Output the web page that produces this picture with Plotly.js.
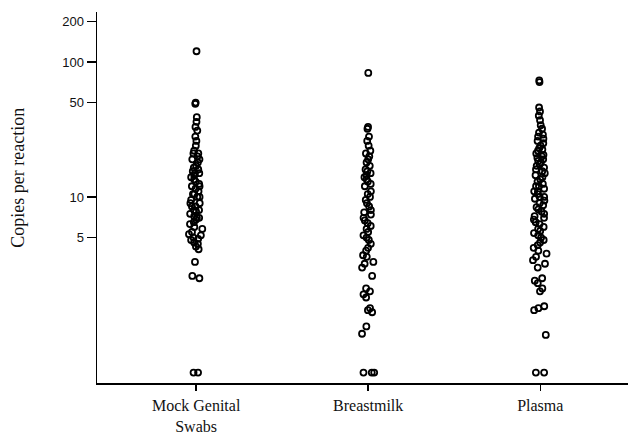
<!DOCTYPE html>
<html><head><meta charset="utf-8">
<script src="https://cdn.plot.ly/plotly-3.0.1.min.js"></script>
<style>html,body{margin:0;padding:0;background:#fff}</style>
</head><body><div id="chart" style="width:636px;height:436px"></div>
<script>
const categories = ["Mock Genital<br>Swabs", "Breastmilk", "Plasma"];
const categoryPos = [0, 1, 2];
const mockSwabs = [120, 50, 49, 39, 36, 33, 31, 28, 26, 24, 22, 21, 21, 20, 19, 19, 18, 17, 16.5, 16, 15.5, 15, 15, 14.5, 14, 13.5, 13, 12.5, 12, 12, 11.5, 11, 10.5, 10.5, 10, 10, 9.5, 9, 9, 8.5, 8.5, 8, 8, 7.8, 7.5, 7.2, 7, 7, 6.8, 6.5, 6.3, 6, 5.8, 5.5, 5.3, 5.2, 5, 4.9, 4.8, 4.6, 4.5, 4.3, 4.1, 3.3, 2.6, 2.5, 0.5, 0.5];
const breastmilk = [83, 33, 32, 28, 26, 24, 22, 21, 20, 19, 18, 17, 16, 15.5, 15, 14.5, 14, 13.5, 13, 12.5, 12, 11, 10.5, 10, 9.5, 9, 8.5, 8, 7.7, 7.4, 7, 6.7, 6.4, 6.1, 5.8, 5.5, 5.2, 5, 4.8, 4.5, 4.2, 4.0, 3.7, 3.6, 3.3, 3.2, 3.0, 2.6, 2.1, 2.0, 1.9, 1.8, 1.5, 1.45, 1.4, 1.1, 0.97, 0.5, 0.5, 0.5];
const plasma = [73, 71, 46, 43, 40, 37, 34, 32, 30, 29, 28, 27, 26, 25, 24, 23, 22.5, 22, 21, 20.5, 20, 19.5, 19, 18.5, 18, 17.5, 17, 16.5, 16, 15.5, 15, 14.5, 14, 13.5, 13, 12.5, 12, 12, 11.5, 11, 11, 10.5, 10, 10, 9.7, 9.4, 9, 8.7, 8.4, 8.1, 7.8, 7.5, 7.2, 7, 6.8, 6.5, 6.3, 6, 5.8, 5.6, 5.4, 5.2, 5, 4.8, 4.6, 4.4, 4.2, 4, 3.8, 3.6, 3.4, 3.2, 3.0, 2.5, 2.4, 2.3, 2.1, 2.0, 1.55, 1.5, 1.45, 0.95, 0.5, 0.5];
const yTickVals = [5, 10, 50, 100, 200];
const yTickText = ["5", "10", "50", "100", "200"];
const yTitle = "Copies per reaction";
const seriesList = [mockSwabs, breastmilk, plasma];

const traces = seriesList.map((vals, i) => ({
  type: 'box',
  x0: categoryPos[i],
  y: vals,
  width: 0.1,
  boxpoints: 'all',
  jitter: 0.9,
  pointpos: 0,
  fillcolor: 'rgba(0,0,0,0)',
  line: {color: 'rgba(0,0,0,0)', width: 0},
  marker: {symbol: 'circle-open', size: 6, color: '#000', line: {width: 1.8, color: '#000'}},
  hoverinfo: 'y',
  showlegend: false
}));

const layout = {
  width: 636, height: 436,
  margin: {l: 97, r: 8, t: 12, b: 53},
  paper_bgcolor: '#fff', plot_bgcolor: '#fff',
  showlegend: false,
  xaxis: {
    range: [-0.576, 2.51],
    tickvals: categoryPos, ticktext: categories,
    ticks: 'outside', ticklen: 6, tickwidth: 1.5, tickcolor: '#000',
    ticklabelstandoff: 1,
    showline: true, linecolor: '#000', linewidth: 1.5,
    showgrid: false, zeroline: false,
    tickfont: {family: 'Liberation Serif, Times New Roman, serif', size: 16, color: '#111'}
  },
  yaxis: {
    type: 'log',
    range: [-0.378, 2.370],
    tickvals: yTickVals, ticktext: yTickText,
    ticks: 'outside', ticklen: 9, tickwidth: 1.5, tickcolor: '#000',
    showline: true, linecolor: '#000', linewidth: 1.5,
    showgrid: false, zeroline: false,
    tickfont: {family: 'Liberation Sans, Arial, sans-serif', size: 13, color: '#111'}
  },
  annotations: [{
    text: yTitle, textangle: -90, showarrow: false,
    xref: 'paper', yref: 'paper', x: -0.149, y: 0.553,
    xanchor: 'center', yanchor: 'middle',
    font: {family: 'Liberation Serif, Times New Roman, serif', size: 18, color: '#111'}
  }]
};
Plotly.newPlot('chart', traces, layout, {staticPlot: true, displayModeBar: false});
</script></body></html>
